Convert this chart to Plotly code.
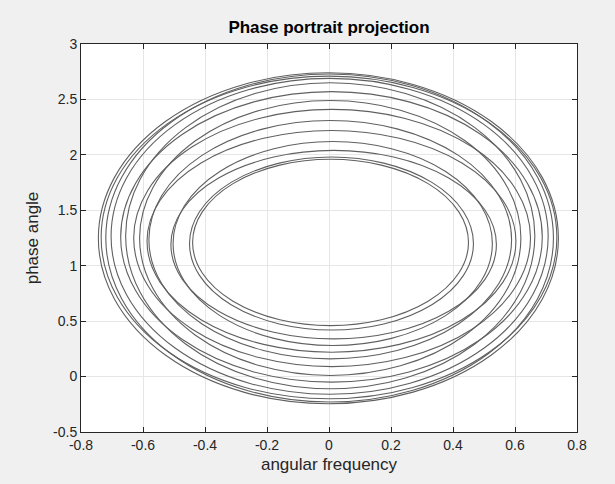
import plotly.graph_objects as go

# Ring (orbit) parameters: centre and semi-axes of each loop
ring_cx = [0.005, 0.008, 0.015, 0.012, 0.008, 0.004, 0.010, 0.004, 0.008, 0.004, 0.002, 0.000, 0.002, -0.002]
ring_cy = [1.21, 1.20, 1.19, 1.20, 1.22, 1.235, 1.25, 1.25, 1.26, 1.27, 1.265, 1.255, 1.25, 1.2475]
ring_rx = [0.445, 0.458, 0.525, 0.515, 0.595, 0.585, 0.640, 0.615, 0.680, 0.660, 0.705, 0.735, 0.722, 0.742]
ring_ry = [0.75, 0.78, 0.85, 0.92, 1.00, 1.075, 1.16, 1.24, 1.31, 1.38, 1.425, 1.455, 1.48, 1.4925]

x_ticks = [-0.8, -0.6, -0.4, -0.2, 0, 0.2, 0.4, 0.6, 0.8]
x_tick_text = ["-0.8", "-0.6", "-0.4", "-0.2", "0", "0.2", "0.4", "0.6", "0.8"]
y_ticks = [-0.5, 0, 0.5, 1, 1.5, 2, 2.5, 3]
y_tick_text = ["-0.5", "0", "0.5", "1", "1.5", "2", "2.5", "3"]

line_col = "#606060"

fig = go.Figure()
# invisible anchor trace so the axes exist
fig.add_trace(go.Scatter(x=[x_ticks[0], x_ticks[-1]], y=[y_ticks[0], y_ticks[-1]],
                         mode="markers", marker=dict(opacity=0), hoverinfo="skip",
                         showlegend=False))

shapes = []
for cx, cy, rx, ry in zip(ring_cx, ring_cy, ring_rx, ring_ry):
    shapes.append(dict(type="circle", xref="x", yref="y",
                       x0=cx - rx, x1=cx + rx, y0=cy - ry, y1=cy + ry,
                       line=dict(color=line_col, width=1.1), fillcolor="rgba(0,0,0,0)",
                       layer="above"))

font_fam = "Liberation Sans, Arial, sans-serif"
axis_common = dict(showline=True, linecolor="#262626", linewidth=1, mirror="allticks",
                   ticks="inside", ticklen=5, tickcolor="#262626",
                   showgrid=True, gridcolor="#e6e6e6", gridwidth=1, zeroline=False,
                   tickfont=dict(family=font_fam, size=14, color="#262626"))

fig.update_layout(
    width=615, height=484,
    paper_bgcolor="#f0f0f0", plot_bgcolor="white",
    margin=dict(l=81, r=38, t=44, b=52),
    shapes=shapes,
    showlegend=False,
    title=dict(text="<b>Phase portrait projection</b>", x=(81 + 577) / 2 / 615, xanchor="center",
               y=1 - 27 / 484, yanchor="middle",
               font=dict(family=font_fam, size=17, color="black")),
    xaxis=dict(range=[-0.8, 0.8], tickvals=x_ticks, ticktext=x_tick_text,
               title=dict(text="angular frequency", font=dict(family=font_fam, size=17, color="#262626"),
                          standoff=6),
               **axis_common),
    yaxis=dict(range=[-0.5, 3], tickvals=y_ticks, ticktext=y_tick_text,
               title=dict(text="phase angle", font=dict(family=font_fam, size=17, color="#262626"),
                          standoff=10),
               **axis_common),
)

fig.write_html("out.html", config={"displayModeBar": False},
               post_script="document.body.style.margin='0px';document.body.style.background='#f0f0f0';")
